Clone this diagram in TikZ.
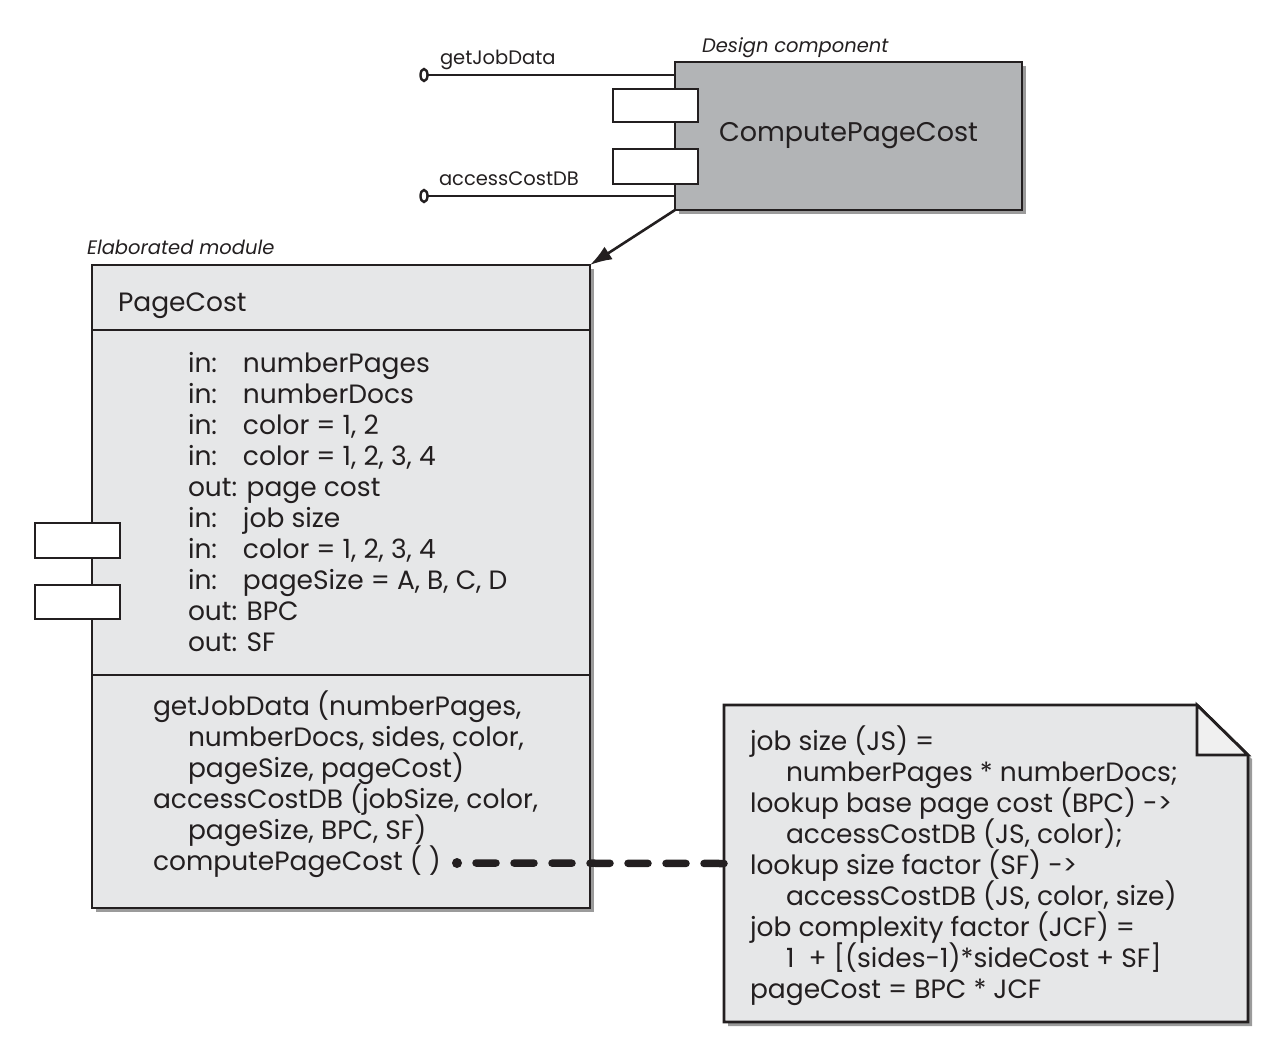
\documentclass[tikz,border=0pt]{standalone}
\usepackage{fontspec}
\setmainfont{Poppins}
\usetikzlibrary{calc,arrows.meta,shadows,shapes.geometric}
\definecolor{compgray}{HTML}{B2B4B6}
\definecolor{modgray}{HTML}{E6E7E8}
\definecolor{foldgray}{HTML}{F0F0F0}
\definecolor{shadowgray}{HTML}{8A8A8A}
\definecolor{inkc}{HTML}{231F20}
\newcommand\inlab{\makebox[55pt][l]{in:}}
\begin{document}
\begin{tikzpicture}[x=1pt,y=-1pt,
  bodytxt/.style={inner sep=0pt, outer sep=0pt, anchor=base west, text=inkc, font=\fontsize{26.5}{31}\selectfont},
  smalltxt/.style={inner sep=0pt, outer sep=0pt, anchor=base west, text=inkc, font=\fontsize{19.5}{23}\selectfont},
  smallit/.style={smalltxt, font=\fontsize{19.5}{23}\selectfont\itshape},
  myshadow/.style={drop shadow={shadow xshift=4pt, shadow yshift=-4pt, fill=shadowgray, opacity=0.85}},
  bigbox/.style={draw=inkc, line width=2.8pt, inner sep=0pt, outer sep=0pt, anchor=north west, myshadow},
  port/.style={draw=inkc, fill=white, line width=2.8pt, inner sep=0pt, outer sep=0pt, anchor=north west, minimum width=85pt},
  lolli/.style={draw=inkc, ellipse, line width=2.4pt, minimum width=7pt, minimum height=12pt, inner sep=0pt, outer sep=0pt},
  iface/.style={draw=inkc, line width=2.2pt},
  divider/.style={draw=inkc, line width=2.2pt},
  dashconn/.style={draw=inkc, line width=7.5pt, line cap=round, dash pattern=on 20pt off 18pt}
]
\useasboundingbox (0,0) rectangle (1280,1052);

% ---------- design component ----------
\node[bigbox, fill=compgray, minimum width=347pt, minimum height=148pt,
      text=inkc, font=\fontsize{27}{31}\selectfont] (comp) at (675,62) {ComputePageCost};
\node[port, minimum height=33pt] (cp1) at (613,89) {};
\node[port, minimum height=35pt] (cp2) at (613,149) {};
\node[smallit] (dclabel) at (702,52) {Design component};

\node[lolli] (lp1) at (424,75) {};
\node[lolli] (lp2) at (424,196) {};
\draw[iface] (lp1.east) -- (lp1.east -| comp.west);
\draw[iface] (lp2.east) -- (lp2.east -| comp.west);
\node[smalltxt] (gjd) at (440,64) {getJobData};
\node[smalltxt] (acd) at (439,185) {accessCostDB};

% ---------- elaborated module ----------
\node[smallit] (emlabel) at (87,254) {Elaborated module};
\node[bigbox, fill=modgray, minimum width=498pt, minimum height=643pt] (module) at (92,265) {};
\draw[divider] ($(module.north west)+(0,65)$) -- ($(module.north east)+(0,65)$);
\draw[divider] ($(module.north west)+(0,410)$) -- ($(module.north east)+(0,410)$);
\node[port, minimum height=35pt] (mp1) at (35,523) {};
\node[port, minimum height=34pt] (mp2) at (35,585) {};

\node[bodytxt] (mname) at (118,311) {PageCost};

\foreach \t [count=\i] in {
  {\inlab numberPages},
  {\inlab numberDocs},
  {\inlab color = 1, 2},
  {\inlab color = 1, 2, 3, 4},
  {out: page cost},
  {\inlab job size},
  {\inlab color = 1, 2, 3, 4},
  {\inlab pageSize = A, B, C, D},
  {out: BPC},
  {out: SF}}
  \node[bodytxt] (attr\i) at (188,{372+31*(\i-1)}) {\t};

\node[bodytxt] (op1) at (153,715) {getJobData (numberPages,};
\node[bodytxt] (op2) at (188,746) {numberDocs, sides, color,};
\node[bodytxt] (op3) at (188,777) {pageSize, pageCost)};
\node[bodytxt] (op4) at (153,808) {accessCostDB (jobSize, color,};
\node[bodytxt] (op5) at (188,839) {pageSize, BPC, SF)};
\node[bodytxt] (op6) at (153,870) {computePageCost ( )};

% ---------- arrow from component to module ----------
\draw[draw=inkc, line width=2.6pt, -{Latex[length=22pt,width=15pt]}] (comp.south west) -- (module.north east);

% ---------- note ----------
\node[inner sep=0pt, outer sep=0pt, anchor=north west, minimum width=524pt, minimum height=317pt] (note) at (724,705) {};
\fill[shadowgray, opacity=0.85] ($(note.north west)+(4,4)$) -- ($(note.north east)+(-47,4)$) -- ($(note.north east)+(4,54)$)
   -- ($(note.south east)+(4,4)$) -- ($(note.south west)+(4,4)$) -- cycle;
\draw[draw=inkc, fill=modgray, line width=2.8pt, line join=miter] (note.north west) -- ($(note.north east)+(-51,0)$)
   -- ($(note.north east)+(0,50)$) -- (note.south east) -- (note.south west) -- cycle;
\draw[draw=inkc, fill=foldgray, line width=2.8pt] ($(note.north east)+(-51,0)$) -- ($(note.north east)+(-51,50)$)
   -- ($(note.north east)+(0,50)$) -- cycle;

\node[bodytxt] (n1) at (750,750) {job size (JS) =};
\node[bodytxt] (n2) at (786,781) {numberPages * numberDocs;};
\node[bodytxt] (n3) at (750,812) {lookup base page cost (BPC) ->};
\node[bodytxt] (n4) at (786,843) {accessCostDB (JS, color);};
\node[bodytxt] (n5) at (750,874) {lookup size factor (SF) ->};
\node[bodytxt] (n6) at (786,905) {accessCostDB (JS, color, size)};
\node[bodytxt] (n7) at (750,936) {job complexity factor (JCF) =};
\node[bodytxt] (n8) at (786,967) {1\ \ + [(sides-1)*sideCost + SF]};
\node[bodytxt] (n9) at (750,998) {pageCost = BPC * JCF};

% ---------- dashed connector ----------
\coordinate (dstart) at (457,863);
\fill[inkc] (dstart) circle (5pt);
\draw[dashconn] ($(dstart)+(19,0)$) -- (note.west);

\end{tikzpicture}
\end{document}
